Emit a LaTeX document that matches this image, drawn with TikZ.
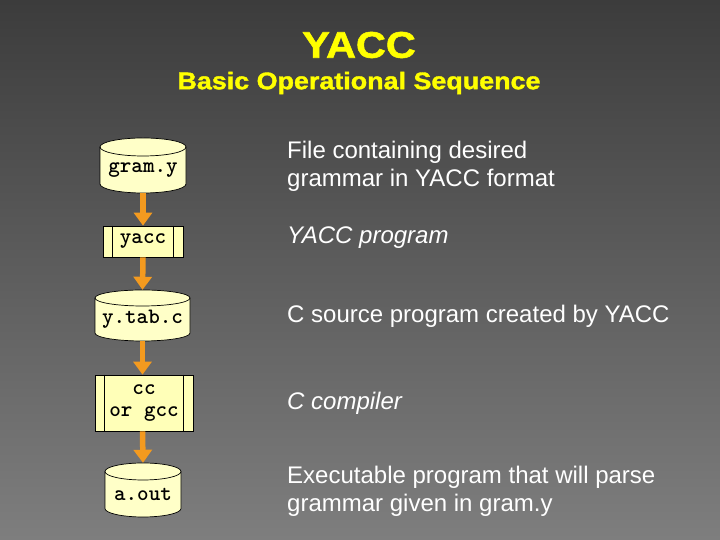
\documentclass[tikz,border=0pt]{standalone}
\usepackage{fontspec}
\setmainfont{Liberation Sans}
\newfontfamily\titlefont[FakeStretch=1.12,FakeBold=1.5]{Liberation Sans Bold}
\usetikzlibrary{arrows.meta}
\definecolor{bgtop}{HTML}{3C3C3C}
\definecolor{bgbot}{HTML}{7E7E7E}
\definecolor{boxfill}{HTML}{FFFFB8}
\definecolor{cylfillc}{HTML}{FFFFC8}
\definecolor{arrowc}{HTML}{F39A1F}
\definecolor{titlec}{HTML}{FFFF00}
\newcommand\cylnode[7]{% name, cx, ytop, ybot, halfwidth, ry, label
  \filldraw[cylstyle] (#2-#5,#3-#6) -- (#2-#5,#4+#6)
    arc[start angle=180,end angle=360,x radius=#5pt,y radius=#6pt]
    -- (#2+#5,#3-#6)
    arc[start angle=0,end angle=180,x radius=#5pt,y radius=#6pt] -- cycle;
  \draw[cylstyle,fill=none] (#2-#5,#3-#6)
    arc[start angle=180,end angle=360,x radius=#5pt,y radius=#6pt];
  \node[lbl, minimum width={2*#5pt}, minimum height={#3-#6-#4}] (#1)
    at (#2,{(#3-#6+#4)/2}) {#7};
}
\begin{document}
\begin{tikzpicture}[x=1pt,y=1pt,
  cylstyle/.style={fill=cylfillc, draw=black, line width=0.7pt},
  lbl/.style={inner sep=0pt, font=\ttfamily\bfseries\fontsize{22}{22}\selectfont, text=black},
  prog/.style={lbl, draw=black, line width=0.7pt, fill=boxfill},
  flow/.style={draw=arrowc, line width=5.5pt, -{Triangle[width=18pt,length=13pt]}, fill=arrowc},
  desc/.style={anchor=base west, inner sep=0pt, text=white, align=left,
    font=\fontsize{24}{28}\selectfont},
  idesc/.style={desc, font=\itshape\fontsize{24}{28}\selectfont},
  ttl/.style={text=titlec, font=\titlefont\fontsize{37}{40}\selectfont},
  subttl/.style={text=titlec, font=\titlefont\fontsize{24}{28}\selectfont}]
\useasboundingbox (0,0) rectangle (720,540);
\shade[top color=bgtop, bottom color=bgbot] (0,0) rectangle (720,540);

\node[ttl] (title) at (359,495) {YACC};
\node[subttl] (subtitle) at (359,457) {Basic Operational Sequence};

% cylinders
\cylnode{gram}{143}{402}{347}{43}{9}{gram.y}
\cylnode{ytab}{142.5}{250}{199}{47.5}{8}{y.tab.c}
\cylnode{aout}{143}{77}{23}{38}{8.5}{a.out}

% program boxes
\node[prog, minimum width=80pt, minimum height=31pt] (yacc) at (143,298.5) {yacc};
\draw[line width=0.7pt] ([xshift=10pt]yacc.north west) -- ([xshift=10pt]yacc.south west);
\draw[line width=0.7pt] ([xshift=-10pt]yacc.north east) -- ([xshift=-10pt]yacc.south east);

\node[prog, minimum width=98pt, minimum height=56pt, align=center] (cc) at (144,137)
  {cc\\or gcc};
\draw[line width=0.7pt] ([xshift=10pt]cc.north west) -- ([xshift=10pt]cc.south west);
\draw[line width=0.7pt] ([xshift=-10pt]cc.north east) -- ([xshift=-10pt]cc.south east);

% arrows
\draw[flow] (gram.south) -- (yacc.north);
\draw[flow] (yacc.south) -- ([yshift=8pt]ytab.north);
\draw[flow] (ytab.south) -- (ytab.south |- cc.north);
\draw[flow] (ytab.south |- cc.south) -- ([yshift=8.5pt]aout.north);

% descriptions (anchored at the baseline of the last line)
\node[desc] (d1) at (287,353) {File containing desired\\grammar in YACC format};
\node[idesc] (d2) at (287,296) {YACC program};
\node[desc] (d3) at (287,217) {C source program created by YACC};
\node[idesc] (d4) at (287,130) {C compiler};
\node[desc] (d5) at (287,28) {Executable program that will parse\\grammar given in gram.y};
\end{tikzpicture}
\end{document}
